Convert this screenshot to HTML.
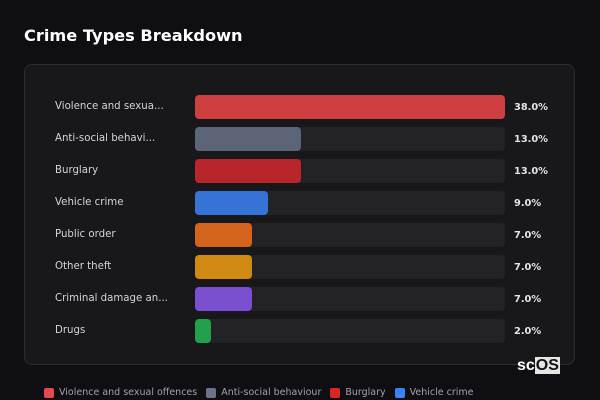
<!DOCTYPE html>
<html><head><meta charset="utf-8"><style>
body{margin:0;width:600px;height:400px;background:#0f0f13;font-family:"DejaVu Sans","Liberation Sans",sans-serif;overflow:hidden;position:relative}
.title{position:absolute;left:24px;top:26px;color:#fff;font-weight:bold;font-size:16.2px}
.card{position:absolute;left:24px;top:64px;width:551px;height:301px;background:#18181b;border:1px solid #2c2c31;border-radius:8px;box-sizing:border-box}
.lbl{position:absolute;left:55px;color:#d4d4d8;font-size:10.2px;line-height:14px}
.track{position:absolute;left:195px;width:310px;height:24px;background:#232327;border-radius:4px}
.bar{position:absolute;left:195px;height:24px;border-radius:4px}
.val{position:absolute;left:514px;color:#e4e4e7;font-size:9.8px;font-weight:bold;line-height:14px}
.legend{position:absolute;top:387px;left:44px;font-size:9.5px;color:#a1a1aa;display:flex;gap:9px}
.legend span{display:flex;align-items:center;gap:5px}
.legend i{display:inline-block;width:10px;height:10px;border-radius:2px}
.logo{position:absolute;left:517px;top:357px;color:#fff;font-size:16px;font-weight:bold;font-family:"Liberation Sans",sans-serif}
.logo b{background:#e5e5e5;color:#111;padding:0 1px}
</style></head><body>
<div class="title">Crime Types Breakdown</div>
<div class="card"></div>
<div id="rows"></div>
<div class="logo">sc<b>OS</b></div>
<div class="legend" id="legend"></div>
<script>
const categories=["Violence and sexua...","Anti-social behavi...","Burglary","Vehicle crime","Public order","Other theft","Criminal damage an...","Drugs"];
const values=[38,13,13,9,7,7,7,2];
const colors=["#cf3f3f","#5b6577","#b8252a","#3574d6","#d4631c","#d08a12","#7a4fd0","#22a04c"];
const legendNames=["Violence and sexual offences","Anti-social behaviour","Burglary","Vehicle crime"];
const legendColors=["#e5484d","#6b7488","#dc2626","#3b82f6"];
const maxV=Math.max(...values);
const x=v=>v/maxV*310;
const y=i=>95+i*32;
const rows=document.getElementById('rows');
categories.forEach((c,i)=>{
 const l=document.createElement('div');l.className='lbl';l.style.top=(y(i)+5)+'px';l.textContent=c;
 
 
 rows.appendChild(l);
 const t=document.createElement('div');t.className='track';t.style.top=y(i)+'px';
 
 
 rows.appendChild(t);
 const b=document.createElement('div');b.className='bar';b.style.top=y(i)+'px';b.style.width=x(values[i])+'px';b.style.background=colors[i];
 
 
 rows.appendChild(b);
 const v=document.createElement('div');v.className='val';v.style.top=(y(i)+6)+'px';v.textContent=values[i].toFixed(1)+'%';
 
 
 rows.appendChild(v);
});
const lg=document.getElementById('legend');
legendNames.forEach((n,i)=>{
 const s=document.createElement('span');s.innerHTML='<i style="background:'+legendColors[i]+'"></i>'+n;
 
 
 lg.appendChild(s);
});
</script>
</body></html>
